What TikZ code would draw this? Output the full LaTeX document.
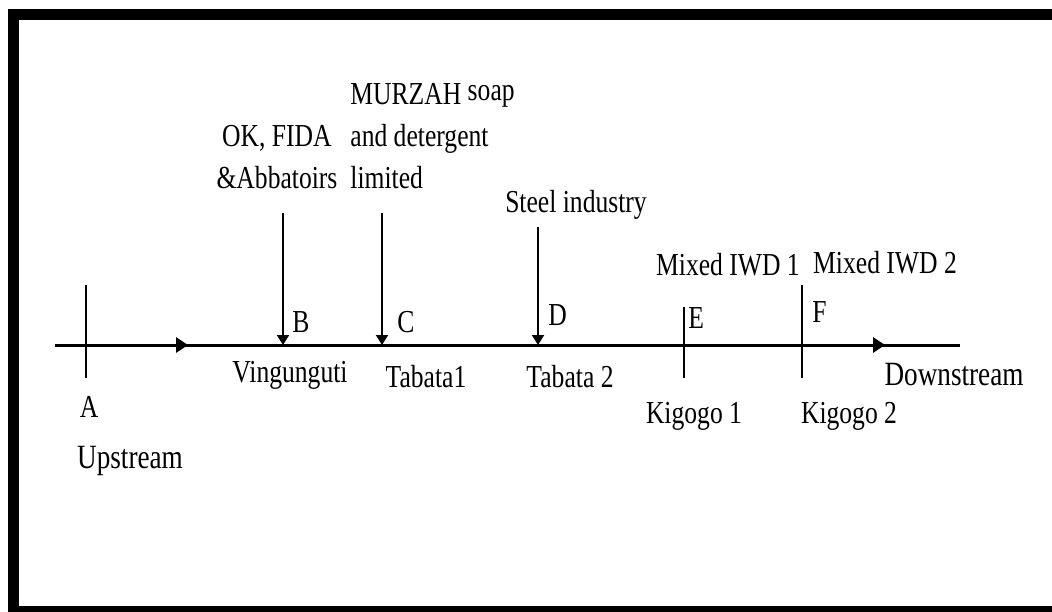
\documentclass[tikz,border=0pt]{standalone}
\usepackage{fontspec}
\setmainfont{Liberation Serif}[FakeStretch=0.8]
\usetikzlibrary{arrows.meta}
\begin{document}
\begin{tikzpicture}[x=0.5pt,y=-0.5pt,
  lbl/.style={font=\fontsize{16}{21}\selectfont,inner sep=0pt,anchor=base},
  endlbl/.style={lbl,font=\fontsize{17}{21}\selectfont},
  river/.style={line width=1.5pt},
  flowtip/.style={-{Triangle[length=6pt,width=7.5pt]},line width=1.5pt},
  inflow/.style={-{Triangle[length=5pt,width=6pt]},line width=1pt},
  tick/.style={line width=1pt}]
  \useasboundingbox (0,0) rectangle (1052,611);
  \draw[line width=5.5pt] (1060,14) -- (13,14) -- (13,611) -- (1060,611);
  % river, flowing left to right
  \coordinate (up) at (55,345);
  \coordinate (flow1) at (188,345);
  \coordinate (flow2) at (885,345);
  \coordinate (dn) at (960,345);
  \draw[river] (up) -- (dn);
  \draw[flowtip] (up) -- (flow1);
  \draw[flowtip] (flow1) -- (flow2);
  % sampling points without inflow
  \foreach \n/\x/\t in {A/86/285,E/684/307,F/802/285}{
    \coordinate (\n top) at (\x,\t);
    \coordinate (\n bot) at (\x,378);
    \draw[tick] (\n top) -- (\n bot);}
  % effluent discharges
  \foreach \n/\x/\t in {B/283/213,C/382/213,D/538/227}{
    \coordinate (\n in) at (\x,\t);
    \coordinate (\n out) at (\x,345);
    \draw[inflow] (\n in) -- (\n out);}
  % point letters
  \node[lbl] (lA) at (89,417) {A};
  \foreach \n/\x/\y in {B/292/332,C/397/332,D/548/325,E/688/328,F/812/322}{
    \node[lbl,anchor=base west] (l\n) at (\x,\y) {\n};}
  % station names
  \node[endlbl] (upstream) at (130,468) {Upstream};
  \node[lbl] (vingunguti) at (290,382) {Vingunguti};
  \node[lbl] (tabata1) at (426,387) {Tabata1};
  \node[lbl] (tabata2) at (570,387) {Tabata 2};
  \node[lbl] (kigogo1) at (694,423) {Kigogo 1};
  \node[lbl] (kigogo2) at (849,423) {Kigogo 2};
  \node[endlbl] (downstream) at (954,385) {Downstream};
  % sources
  \node[lbl,align=center] (okfida) at (277,188) {OK, FIDA\\\&Abbatoirs};
  \node[lbl,align=left,anchor=base west] (murzah) at (350,188) {MURZAH \raisebox{2pt}{soap}\\and detergent\\limited};
  \node[lbl] (steel) at (576,212) {Steel industry};
  \node[lbl] (mixed1) at (728,275) {Mixed IWD 1};
  \node[lbl] (mixed2) at (885,273) {Mixed IWD 2};
\end{tikzpicture}
\end{document}
